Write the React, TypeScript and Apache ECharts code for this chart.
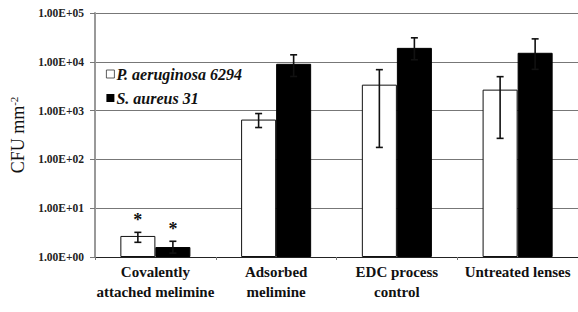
import React, { useEffect, useRef } from "react";
import * as echarts from "echarts";

const categories = ["Covalently\nattached melimine", "Adsorbed\nmelimine", "EDC process\ncontrol", "Untreated lenses"];
const seriesNames = ["P. aeruginosa 6294", "S. aureus 31"];
const paValues = [2.7, 655, 3400, 2690];
const saValues = [1.6, 9100, 19300, 15300];
const paErrLow = [2.0, 450, 176, 270];
const paErrHigh = [3.2, 870, 6900, 4960];
const saErrLow = [1.2, 5000, 11000, 7000];
const saErrHigh = [2.1, 13900, 31000, 29500];
const significant = [true, false, false, false];

export default function App() {
  const ref = useRef<HTMLDivElement>(null);
  useEffect(() => {
    document.body.style.margin = "0";
    const chart = echarts.init(ref.current!, null, { renderer: "svg" });
    const serif = "Liberation Serif";
    const errData: any[] = [];
    categories.forEach((_, i) => {
      errData.push([i, paErrLow[i], paErrHigh[i], 0, significant[i] ? 1 : 0]);
      errData.push([i, saErrLow[i], saErrHigh[i], 1, significant[i] ? 1 : 0]);
    });
    const gapFrac = 0.42;
    chart.setOption({
      animation: false,
      grid: { left: 94, right: 0, top: 13, bottom: 55 },
      legend: {
        orient: "vertical",
        left: 101,
        top: 61,
        itemWidth: 8,
        itemHeight: 8,
        itemGap: 8,
        data: seriesNames.map((n, i) => ({
          name: n,
          icon: "rect",
          itemStyle: i === 0 ? { color: "#fff", borderColor: "#333", borderWidth: 0.8 } : { color: "#000", borderWidth: 0 },
        })),
        textStyle: { fontFamily: serif, fontStyle: "italic", fontWeight: "bold", fontSize: 16, color: "#111", padding: [0, 0, 0, -3] },
      },
      xAxis: {
        type: "category",
        data: categories,
        axisLine: { lineStyle: { color: "#222", width: 1 } },
        axisTick: { show: true, length: 3, lineStyle: { color: "#777" } },
        axisLabel: {
          fontFamily: serif,
          fontWeight: "bold",
          fontSize: 15,
          color: "#111",
          lineHeight: 20,
          margin: 5,
          interval: 0,
        },
      },
      yAxis: {
        type: "log",
        logBase: 10,
        min: 1,
        max: 100000,
        name: "{a|CFU mm}{b|-2}",
        nameLocation: "middle",
        nameGap: 67,
        nameTextStyle: {
          rich: {
            a: { fontFamily: serif, fontSize: 18, color: "#111" },
            b: { fontFamily: serif, fontSize: 11, color: "#111", verticalAlign: "top", padding: [0, 0, 9, 0] },
          },
        },
        axisLine: { show: true, lineStyle: { color: "#999", width: 2 } },
        axisTick: { show: true, length: 5, lineStyle: { color: "#777" } },
        splitLine: { show: true, lineStyle: { color: "#777", width: 1 } },
        axisLabel: {
          fontFamily: serif,
          fontWeight: "bold",
          fontSize: 11.5,
          color: "#222",
          margin: 11,
          formatter: (v: number) => {
            const e = Math.round(Math.log10(v));
            return "1.00E+" + (e < 10 ? "0" + e : "" + e);
          },
        },
      },
      series: [
        {
          name: seriesNames[0],
          type: "bar",
          data: paValues,
          barGap: "0%",
          barCategoryGap: gapFrac * 100 + "%",
          itemStyle: { color: "#fff", borderColor: "#111", borderWidth: 1 },
        },
        {
          name: seriesNames[1],
          type: "bar",
          data: saValues,
          itemStyle: { color: "#000", borderColor: "#000", borderWidth: 1 },
        },
        {
          type: "custom",
          data: errData,
          z: 5,
          renderItem: (params: any, api: any) => {
            const cat = api.value(0);
            const lo = api.value(1);
            const hi = api.value(2);
            const s = api.value(3);
            const sig = api.value(4);
            const band = api.size([1, 1])[0];
            const bw = (band * (1 - gapFrac)) / 2;
            const center = api.coord([cat, 1])[0];
            const x = center + (s === 0 ? -bw / 2 : bw / 2);
            const pHi = api.coord([cat, hi])[1];
            const pLo = api.coord([cat, lo])[1];
            const cap = 3.5;
            const style = { stroke: "#111", lineWidth: 1.6 };
            const children: any[] = [
              { type: "line", shape: { x1: x, y1: pHi, x2: x, y2: pLo }, style },
              { type: "line", shape: { x1: x - cap, y1: pHi, x2: x + cap, y2: pHi }, style },
              { type: "line", shape: { x1: x - cap, y1: pLo, x2: x + cap, y2: pLo }, style },
            ];
            if (sig) {
              children.push({
                type: "text",
                style: {
                  text: "*",
                  x: x,
                  y: pHi - 3,
                  align: "center",
                  verticalAlign: "bottom",
                  fontFamily: serif,
                  fontWeight: "bold",
                  fontSize: 18,
                  fill: "#111",
                },
              });
            }
            return { type: "group", children };
          },
        },
      ],
    });
    return () => chart.dispose();
  }, []);
  return <div ref={ref} style={{ width: 578, height: 312 }} />;
}
